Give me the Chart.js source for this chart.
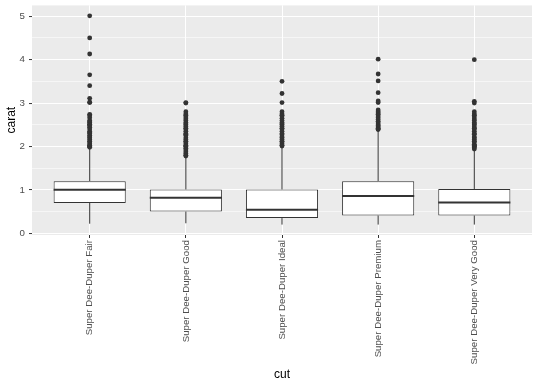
<!DOCTYPE html>
<html>
<head>
<meta charset="utf-8">
<script src="https://cdn.jsdelivr.net/npm/chart.js@4/dist/chart.umd.min.js"></script>
<style>
  body { margin: 0; background: #fff; }
  canvas { display: block; }
</style>
</head>
<body>
<canvas id="myChart" width="540" height="386"></canvas>
<script>
// categorias y estadisticas de cada caja (carat por cut)
const cuts = ['Super Dee-Duper Fair', 'Super Dee-Duper Good', 'Super Dee-Duper Ideal', 'Super Dee-Duper Premium', 'Super Dee-Duper Very Good'];
const lowerWhisker = [0.22, 0.23, 0.20, 0.20, 0.20];
const q1 = [0.70, 0.50, 0.35, 0.41, 0.41];
const median = [1.00, 0.82, 0.54, 0.86, 0.71];
const q3 = [1.20, 1.01, 1.01, 1.20, 1.02];
const upperWhisker = [1.95, 1.77, 2.00, 2.38, 1.93];

// valores atipicos
const outliersFair = [5.01, 4.5, 4.13, 3.65, 3.4, 3.11, 3.02, 3.01, 2.74, 2.71, 2.66, 2.6, 2.57, 2.55, 2.51, 2.5, 2.48, 2.44, 2.4, 2.35, 2.32, 2.3, 2.26, 2.22, 2.2, 2.16, 2.12, 2.1, 2.06, 2.03, 2.01, 2.0, 1.98];
const outliersGood = [3.01, 3.0, 2.8, 2.75, 2.72, 2.68, 2.64, 2.6, 2.55, 2.52, 2.5, 2.46, 2.42, 2.4, 2.35, 2.3, 2.28, 2.25, 2.2, 2.16, 2.12, 2.1, 2.06, 2.02, 2.01, 2.0, 1.96, 1.92, 1.88, 1.84, 1.8, 1.78];
const outliersIdeal = [3.5, 3.22, 3.01, 2.8, 2.75, 2.72, 2.7, 2.65, 2.6, 2.55, 2.52, 2.5, 2.46, 2.42, 2.4, 2.35, 2.3, 2.27, 2.22, 2.2, 2.16, 2.12, 2.1, 2.06, 2.03, 2.01];
const outliersPremium = [4.01, 3.67, 3.51, 3.24, 3.05, 3.01, 2.84, 2.8, 2.77, 2.74, 2.7, 2.66, 2.62, 2.58, 2.54, 2.5, 2.48, 2.45, 2.42, 2.4, 2.39];
const outliersVeryGood = [4.0, 3.04, 3.0, 2.8, 2.75, 2.72, 2.68, 2.63, 2.6, 2.55, 2.52, 2.5, 2.45, 2.42, 2.4, 2.35, 2.3, 2.28, 2.22, 2.2, 2.16, 2.12, 2.1, 2.05, 2.02, 2.01, 2.0, 1.97, 1.94];

const yTicks = [0, 0.5, 1, 1.5, 2, 2.5, 3, 3.5, 4, 4.5, 5];

const outlierLists = [outliersFair, outliersGood, outliersIdeal, outliersPremium, outliersVeryGood];
const boxData = cuts.map((c, i) => ({ x: i + 1, y: [q1[i], q3[i]] }));
const outlierData = [];
outlierLists.forEach((list, i) => list.forEach(v => outlierData.push({ x: i + 1, y: v })));

const FONT = '"Liberation Sans", Arial, sans-serif';

// fondo gris del panel
const panelBg = {
  id: 'panelBg',
  beforeDraw(chart) {
    const { ctx, chartArea: a } = chart;
    ctx.save();
    ctx.fillStyle = '#EBEBEB';
    ctx.fillRect(a.left, a.top, a.right - a.left, a.bottom - a.top);
    ctx.restore();
  }
};

// bigotes y medianas
const boxParts = {
  id: 'boxParts',
  beforeDatasetsDraw(chart) {
    const { ctx, scales: { x, y } } = chart;
    ctx.save();
    ctx.strokeStyle = '#333333';
    ctx.lineWidth = 1;
    cuts.forEach((c, i) => {
      const px = x.getPixelForValue(i + 1);
      ctx.beginPath();
      ctx.moveTo(px, y.getPixelForValue(lowerWhisker[i]));
      ctx.lineTo(px, y.getPixelForValue(q1[i]));
      ctx.moveTo(px, y.getPixelForValue(q3[i]));
      ctx.lineTo(px, y.getPixelForValue(upperWhisker[i]));
      ctx.stroke();
    });
    ctx.restore();
  },
  afterDatasetsDraw(chart) {
    const { ctx, scales: { y } } = chart;
    const meta = chart.getDatasetMeta(0);
    ctx.save();
    ctx.strokeStyle = '#333333';
    ctx.lineWidth = 2;
    meta.data.forEach((bar, i) => {
      const half = bar.width / 2;
      const py = y.getPixelForValue(median[i]);
      ctx.beginPath();
      ctx.moveTo(bar.x - half, py);
      ctx.lineTo(bar.x + half, py);
      ctx.stroke();
    });
    ctx.restore();
  }
};

new Chart(document.getElementById('myChart'), {
  type: 'bar',
  data: {
    datasets: [
      {
        type: 'bar',
        data: boxData,
        backgroundColor: '#FFFFFF',
        borderColor: '#333333',
        borderWidth: 1,
        borderSkipped: false,
        categoryPercentage: 1,
        barPercentage: 0.75
      },
      {
        type: 'scatter',
        data: outlierData,
        backgroundColor: '#333333',
        borderColor: '#333333',
        pointRadius: 2.4,
        borderWidth: 0
      }
    ]
  },
  options: {
    responsive: false,
    animation: false,
    layout: { padding: { top: 0, right: 8, left: 0, bottom: 0 } },
    plugins: { legend: { display: false }, tooltip: { enabled: false } },
    scales: {
      x: {
        type: 'linear',
        min: 0.4,
        max: 5.6,
        offset: false,
        afterBuildTicks: axis => { axis.ticks = cuts.map((c, i) => ({ value: i + 1 })); },
        afterFit: axis => { axis.height = 151; },
        grid: { offset: false, color: '#FFFFFF', lineWidth: 1, tickColor: '#333333', tickLength: 3, tickWidth: 1 },
        border: { display: false },
        ticks: {
          autoSkip: false,
          minRotation: 90,
          maxRotation: 90,
          padding: 2,
          color: '#4D4D4D',
          font: { family: FONT, size: 9.7 },
          callback: v => cuts[Math.round(v) - 1]
        },
        title: { display: true, text: 'cut', color: '#000000', font: { family: FONT, size: 12 }, padding: { top: 4, bottom: 4 } }
      },
      y: {
        min: -0.04,
        max: 5.25,
        afterBuildTicks: axis => { axis.ticks = yTicks.map(v => ({ value: v })); },
        afterFit: axis => { axis.width = 32; axis.paddingTop = 5.4; axis.paddingBottom = 0; },
        grid: {
          color: '#FFFFFF',
          lineWidth: c => (c.tick && c.tick.value % 1 === 0 ? 1.1 : 0.55),
          tickColor: c => (c.tick && c.tick.value % 1 === 0 ? '#333333' : 'rgba(0,0,0,0)'),
          tickLength: 3,
          tickWidth: 1
        },
        border: { display: false },
        ticks: {
          padding: 4,
          color: '#4D4D4D',
          font: { family: FONT, size: 9.7 },
          callback: v => (v % 1 === 0 ? String(v) : '')
        },
        title: { display: true, text: 'carat', color: '#000000', font: { family: FONT, size: 12 }, padding: { top: 4, bottom: 4 } }
      }
    }
  },
  plugins: [panelBg, boxParts]
});
</script>
</body>
</html>
